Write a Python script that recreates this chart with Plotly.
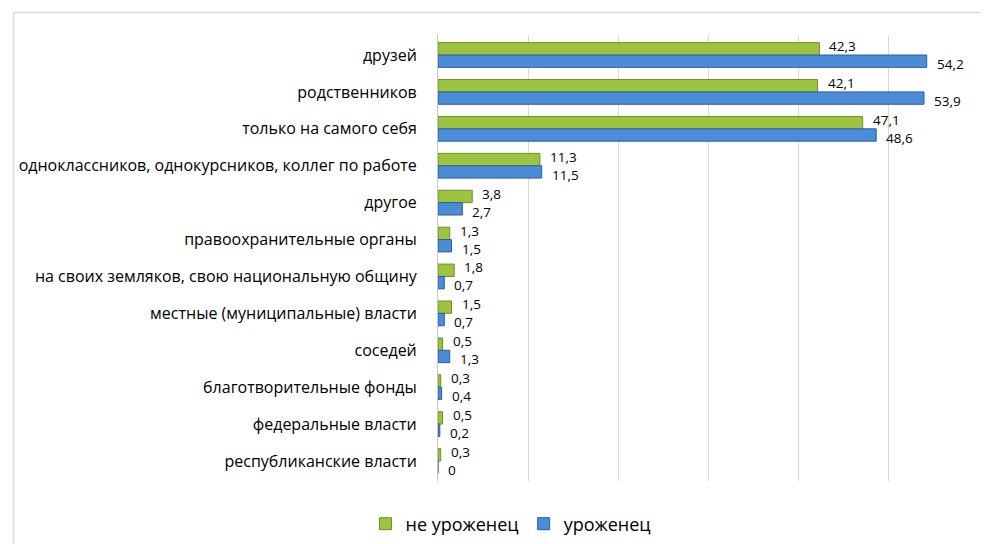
import plotly.graph_objects as go

categories = [
    "друзей",
    "родственников",
    "только на самого себя",
    "одноклассников, однокурсников, коллег по работе",
    "другое",
    "правоохранительные органы",
    "на своих земляков, свою национальную общину",
    "местные (муниципальные) власти",
    "соседей",
    "благотворительные фонды",
    "федеральные власти",
    "республиканские власти",
]
ne_urozhenets = [42.3, 42.1, 47.1, 11.3, 3.8, 1.3, 1.8, 1.5, 0.5, 0.3, 0.5, 0.3]
urozhenets = [54.2, 53.9, 48.6, 11.5, 2.7, 1.5, 0.7, 0.7, 1.3, 0.4, 0.2, 0]
series_names = ["не уроженец", "уроженец"]


def fmt(v):
    return ("%g" % v).replace(".", ",")


FONT = "Open Sans, Liberation Sans, Arial"

fig = go.Figure()
fig.add_trace(go.Bar(
    y=categories, x=ne_urozhenets, orientation="h", name=series_names[0],
    marker=dict(color="#9cc43e", line=dict(color="#6f8f26", width=1)),
    hoverinfo="x+y",
))
fig.add_trace(go.Bar(
    y=categories, x=urozhenets, orientation="h", name=series_names[1],
    marker=dict(color="#4b8cd8", line=dict(color="#2b5f9e", width=1)),
    hoverinfo="x+y",
))

annotations = []
for vals, ys in ((ne_urozhenets, 9), (urozhenets, -9)):
    for c, v in zip(categories, vals):
        annotations.append(dict(
            x=v, y=c, xref="x", yref="y", text=fmt(v), showarrow=False,
            xanchor="left", yanchor="middle", xshift=8, yshift=ys,
            font=dict(family=FONT, size=13.5, color="#000000"),
        ))

W, H = 988, 544
ml, mr, mt, mb = 430, 17, 27, 71
pw, ph = W - ml - mr, H - mt - mb

fig.update_layout(
    width=W, height=H,
    margin=dict(l=ml, r=mr, t=mt, b=mb, autoexpand=False),
    barmode="group", bargap=0.33, bargroupgap=0,
    plot_bgcolor="white", paper_bgcolor="white",
    font=dict(family=FONT, size=15, color="#000000"),
    showlegend=True,
    legend=dict(orientation="h", x=503 / W, xref="container", xanchor="center",
                y=(H - 516) / H, yref="container", yanchor="middle",
                font=dict(size=18, family=FONT, color="#000000"), itemwidth=30,
                tracegroupgap=0),
    xaxis=dict(range=[0, 60], dtick=10, showgrid=True, gridcolor="#d9d9d9", gridwidth=1,
               showticklabels=False, zeroline=False, showline=False, automargin=False),
    yaxis=dict(autorange="reversed", showline=True, linecolor="#c8c8c8", linewidth=1,
               ticks="", ticklabelstandoff=17, automargin=False,
               tickfont=dict(size=16, family=FONT, color="#000000")),
    annotations=annotations,
    shapes=[dict(type="rect", xref="paper", yref="paper",
                 x0=(5.5 - ml) / pw, x1=(1010 - ml) / pw,
                 y0=(H - mb - 570) / ph, y1=(H - mb - 4.5) / ph,
                 line=dict(color="#d9d9d9", width=1.5), layer="below")],
)

fig.write_html("out.html")
